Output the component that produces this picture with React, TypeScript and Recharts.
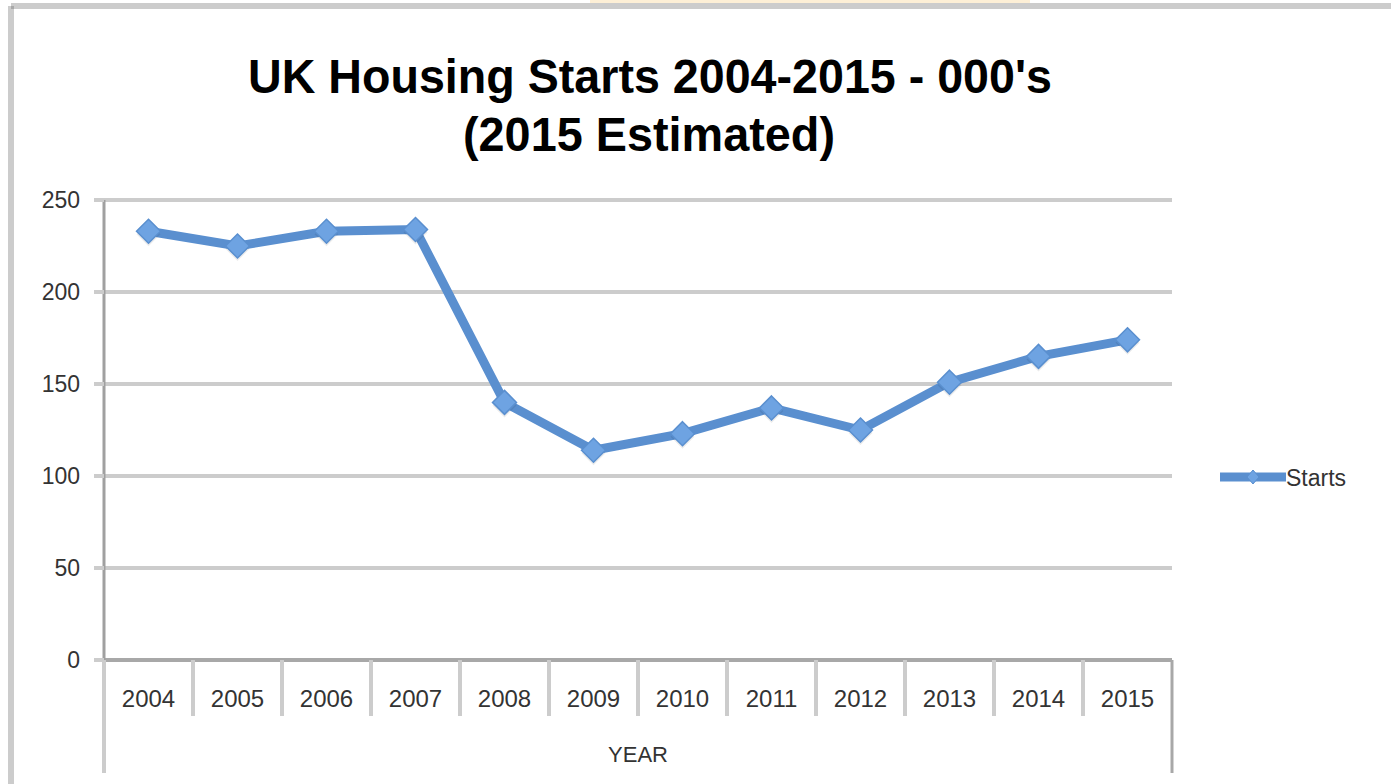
import React from 'react';
import { LineChart, Line, XAxis, YAxis, CartesianGrid, Legend } from 'recharts';

const years: string[] = ['2004', '2005', '2006', '2007', '2008', '2009', '2010', '2011', '2012', '2013', '2014', '2015'];
const starts: number[] = [233, 225, 233, 234, 140, 114, 123, 137, 125, 151, 165, 174];
const yTicks: number[] = [0, 50, 100, 150, 200, 250];
const seriesName = 'Starts';
const titleLine1 = "UK Housing  Starts 2004-2015 - 000's";
const titleLine2 = '(2015 Estimated)';
const xAxisTitle = 'YEAR';

const data = years.map((y, i) => ({ year: y, Starts: starts[i] }));

const W = 1391;
const H = 784;
const M = { top: 200, right: 219, bottom: 8, left: 44 };
const YW = 60;
const PLOT_L = M.left + YW;
const PLOT_R = W - M.right;
const PLOT_B = 660;
const BAND = (PLOT_R - PLOT_L) / years.length;
const LINE = '#5a8fcf';
const MARK = '#6ea3e2';
const FONT = '"Liberation Sans", Arial, sans-serif';

const XTick = (props: any) => {
  const { x, payload } = props;
  const idx = payload.index;
  const half = BAND / 2;
  return (
    <g>
      <line x1={x - half} x2={x - half} y1={PLOT_B} y2={idx === 0 ? 773 : 716} stroke="#cccccc" strokeWidth={4} />
      {idx === years.length - 1 && (
        <line x1={x + half} x2={x + half} y1={PLOT_B} y2={773} stroke="#a8a8a8" strokeWidth={3} />
      )}
      <text x={x} y={707} textAnchor="middle" fontFamily={FONT} fontSize={24} fill="#333">
        {payload.value}
      </text>
    </g>
  );
};

const Diamond = (props: any) => {
  const { cx, cy, index } = props;
  if (cx == null || cy == null) return <g key={index} />;
  const r = 12;
  return (
    <g key={index}>
      <path d={`M${cx},${cy - r + 3} L${cx + r},${cy + 3} L${cx},${cy + r + 3} L${cx - r},${cy + 3} Z`} fill="rgba(0,0,0,0.08)" />
      <path d={`M${cx},${cy - r} L${cx + r},${cy} L${cx},${cy + r} L${cx - r},${cy} Z`} fill={MARK} stroke={LINE} strokeWidth={1.5} />
    </g>
  );
};

const LegendContent = () => (
  <svg width={150} height={30} style={{ overflow: 'visible' }}>
    <line x1={2} x2={68} y1={13} y2={13} stroke={LINE} strokeWidth={9} />
    <path d="M35,6 L41,13 L35,20 L29,13 Z" fill={MARK} stroke={LINE} strokeWidth={1} />
    <text x={68} y={22} fontFamily={FONT} fontSize={23} fill="#333">{seriesName}</text>
  </svg>
);

export default function App() {
  return (
    <div style={{ position: 'absolute', left: 0, top: 0, width: W, height: H, background: '#fff', overflow: 'hidden' }}>
      <LineChart width={W} height={H} data={data} margin={M}>
        <CartesianGrid horizontal vertical={false} stroke="#cccccc" strokeWidth={4} />
        <XAxis
          dataKey="year"
          scale="band"
          height={116}
          interval={0}
          axisLine={{ stroke: '#a8a8a8', strokeWidth: 4 }}
          tickLine={false}
          tick={<XTick />}
          label={{ value: xAxisTitle, position: 'insideBottom', offset: 14, fontFamily: FONT, fontSize: 22, fill: '#333' }}
        />
        <YAxis
          width={YW}
          domain={[0, 250]}
          ticks={yTicks}
          interval={0}
          axisLine={{ stroke: '#a0a0a0', strokeWidth: 3 }}
          tickLine={{ stroke: '#cccccc', strokeWidth: 4 }}
          tickSize={10}
          tickMargin={14}
          tick={{ fontFamily: FONT, fontSize: 23, fill: '#333' }}
        />
        <Legend
          layout="vertical"
          align="center"
          verticalAlign="middle"
          content={<LegendContent />}
          wrapperStyle={{ left: 1218, top: 464, width: 160 }}
        />
        <Line
          type="linear"
          dataKey="Starts"
          name={seriesName}
          stroke={LINE}
          strokeWidth={9}
          dot={<Diamond />}
          activeDot={false}
          isAnimationActive={false}
        />
      </LineChart>
      <svg width={W} height={H} style={{ position: 'absolute', left: 0, top: 0, pointerEvents: 'none' }}>
        <rect x={590} y={0} width={440} height={3} fill="#fdefd6" />
        <rect x={11} y={3} width={W - 11} height={6} fill="#cccccc" />
        <rect x={8} y={6} width={6} height={H - 6} fill="#cccccc" />
        <rect x={11} y={6} width={3} height={3} fill="#a8a8a8" />
        <text x={650} y={93} textAnchor="middle" fontFamily={FONT} fontWeight="bold" fontSize={49} fill="#000" textLength={804} lengthAdjust="spacingAndGlyphs">
          {titleLine1}
        </text>
        <text x={649} y={151} textAnchor="middle" fontFamily={FONT} fontWeight="bold" fontSize={49} fill="#000" textLength={372} lengthAdjust="spacingAndGlyphs">
          {titleLine2}
        </text>
      </svg>
    </div>
  );
}
